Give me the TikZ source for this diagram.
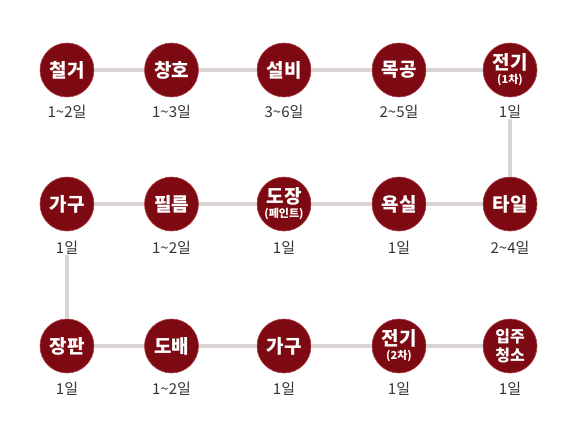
\documentclass[tikz,border=0pt]{standalone}
\usepackage{fontspec}
\setmainfont{Noto Sans CJK KR}
\definecolor{wine}{RGB}{125,10,18}
\definecolor{wineedge}{RGB}{175,60,70}
\definecolor{trackgrey}{RGB}{217,212,210}
\definecolor{durtext}{RGB}{51,51,51}
\newcommand{\smallpart}[1]{{\fontsize{11}{12}\selectfont #1}}
\begin{document}
\begin{tikzpicture}[x=1pt,y=-1pt,
  stage/.style={circle,fill=wine,draw=wineedge,line width=0.6pt,minimum size=54pt,inner sep=0pt,
    text=white,font=\bfseries\fontsize{19}{21}\selectfont,align=center},
  dur/.style={text=durtext,font=\fontsize{15}{17}\selectfont,inner sep=0pt},
  track/.style={draw=trackgrey,line width=4pt}]
\useasboundingbox (0,0) rectangle (573,432);
% row 1
\node[stage] (s1) at (67,70) {철거};
\node[stage] (s2) at (171.5,70) {창호};
\node[stage] (s3) at (284,70) {설비};
\node[stage] (s4) at (399,70) {목공};
\node[stage] (s5) at (510,70) {전기\\[-7pt]\smallpart{(1차)}};
% row 2
\node[stage] (s6) at (510,204) {타일};
\node[stage] (s7) at (399,204) {욕실};
\node[stage] (s8) at (284,204) {도장\\[-7pt]\smallpart{(페인트)}};
\node[stage] (s9) at (171.5,204) {필름};
\node[stage] (s10) at (67,204) {가구};
% row 3
\node[stage] (s11) at (67,346) {장판};
\node[stage] (s12) at (171.5,346) {도배};
\node[stage] (s13) at (284,346) {가구};
\node[stage] (s14) at (399,346) {전기\\[-7pt]\smallpart{(2차)}};
\node[stage,font=\bfseries\fontsize{16}{19}\selectfont] (s15) at (510,346) {입주\\청소};
% durations
\node[dur] (d1) at (67,112) {1\textasciitilde 2일};
\node[dur] (d2) at (171.5,112) {1\textasciitilde 3일};
\node[dur] (d3) at (284,112) {3\textasciitilde 6일};
\node[dur] (d4) at (399,112) {2\textasciitilde 5일};
\node[dur] (d5) at (510,112) {1일};
\node[dur] (d6) at (510,248) {2\textasciitilde 4일};
\node[dur] (d7) at (399,248) {1일};
\node[dur] (d8) at (284,248) {1일};
\node[dur] (d9) at (171.5,248) {1\textasciitilde 2일};
\node[dur] (d10) at (67,248) {1일};
\node[dur] (d11) at (67,389) {1일};
\node[dur] (d12) at (171.5,389) {1\textasciitilde 2일};
\node[dur] (d13) at (284,389) {1일};
\node[dur] (d14) at (399,389) {1일};
\node[dur] (d15) at (510,389) {1일};
% connectors
\draw[track] (s1) -- (s2);
\draw[track] (s2) -- (s3);
\draw[track] (s3) -- (s4);
\draw[track] (s4) -- (s5);
\draw[track] (d5) -- (s6);
\draw[track] (s6) -- (s7);
\draw[track] (s7) -- (s8);
\draw[track] (s8) -- (s9);
\draw[track] (s9) -- (s10);
\draw[track] (d10) -- (s11);
\draw[track] (s11) -- (s12);
\draw[track] (s12) -- (s13);
\draw[track] (s13) -- (s14);
\draw[track] (s14) -- (s15);
\end{tikzpicture}
\end{document}
